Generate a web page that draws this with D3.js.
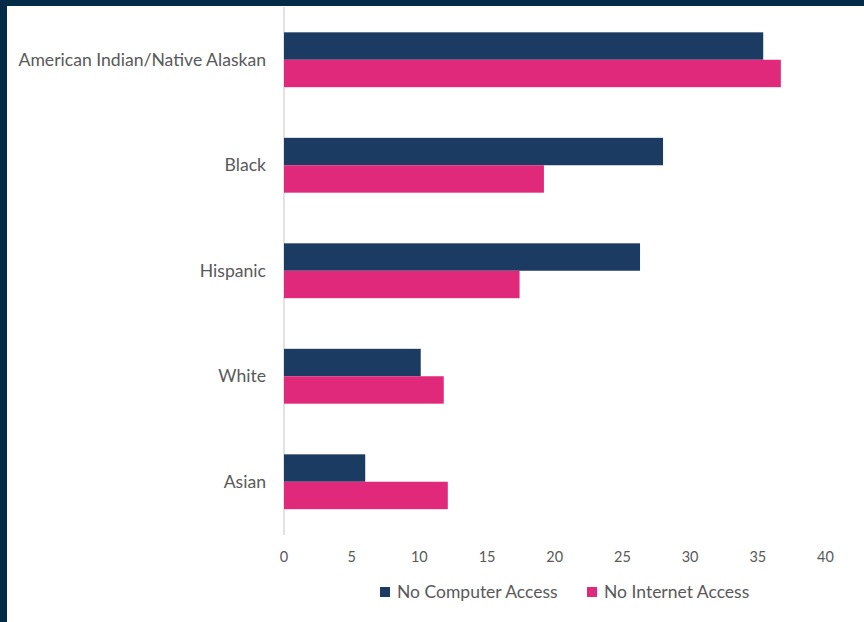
<html>
<head>
  <meta charset="utf-8">
  <script src="https://d3js.org/d3.v7.min.js"></script>
  <style>
    body { margin: 0; background: #032a47; }
    text { font-family: Lato, "Open Sans", sans-serif; fill: #595959; }
  </style>
  <script>
    var categories = ["American Indian/Native Alaskan", "Black", "Hispanic", "White", "Asian"];
    var seriesNames = ["No Computer Access", "No Internet Access"];
    var noComputer = [35.4, 28.0, 26.3, 10.1, 6.0];
    var noInternet = [36.7, 19.2, 17.4, 11.8, 12.1];
    var tickValues = [0, 5, 10, 15, 20, 25, 30, 35, 40];
    var colors = ["#1c3b63", "#e1297b"];

    function makeChart() {
      var svg = d3.select("#chart");
      // white panel
      svg.append("rect").attr("x", 7).attr("y", 6).attr("width", 857).attr("height", 616)
        .attr("fill", "white");

      var x = d3.scaleLinear().domain([0, 40]).range([284, 825.5]);
      var y = d3.scaleBand().domain(categories).range([7, 534.5]).paddingInner(0.48).paddingOuter(0.24);
      var sub = d3.scaleBand().domain(seriesNames).range([0, y.bandwidth()]);

      svg.append("line").attr("x1", x(0)).attr("x2", x(0)).attr("y1", 7).attr("y2", 535)
        .attr("stroke", "#d9d9d9").attr("stroke-width", 1.5);

      var rows = categories.map(function (c, i) {
        return { cat: c, vals: [noComputer[i], noInternet[i]] };
      });

      var g = svg.selectAll("g.row").data(rows).enter().append("g")
        .attr("transform", d => "translate(0," + y(d.cat) + ")");
      g.selectAll("rect").data(d => d.vals.map((v, k) => ({ v: v, k: k }))).enter().append("rect")
        .attr("x", x(0))
        .attr("y", d => sub(seriesNames[d.k]))
        .attr("width", d => x(d.v) - x(0))
        .attr("height", sub.bandwidth())
        .attr("fill", d => colors[d.k]);

      svg.selectAll("text.cat").data(categories).enter().append("text")
        .attr("class", "cat")
        .attr("x", 266).attr("y", d => y(d) + y.bandwidth() / 2)
        .attr("dy", "0.35em").attr("text-anchor", "end")
        .attr("font-size", 17.6).text(d => d);

      svg.selectAll("text.tick").data(tickValues).enter().append("text")
        .attr("class", "tick")
        .attr("x", d => x(d)).attr("y", 557).attr("dy", "0.35em")
        .attr("text-anchor", "middle").attr("font-size", 14.5).text(d => d);

      var legX = [380, 587];
      var leg = svg.selectAll("g.leg").data(seriesNames).enter().append("g")
        .attr("transform", (d, i) => "translate(" + legX[i] + ",592)");
      leg.append("rect").attr("x", 0).attr("y", -5).attr("width", 10).attr("height", 10)
        .attr("fill", (d, i) => colors[i]);
      leg.append("text").attr("x", 17).attr("dy", "0.35em").attr("font-size", 17.5).text(d => d);
    }
  </script>
</head>
<body onload="makeChart()">
  <svg id="chart" width="864" height="622"></svg>
</body>
</html>
